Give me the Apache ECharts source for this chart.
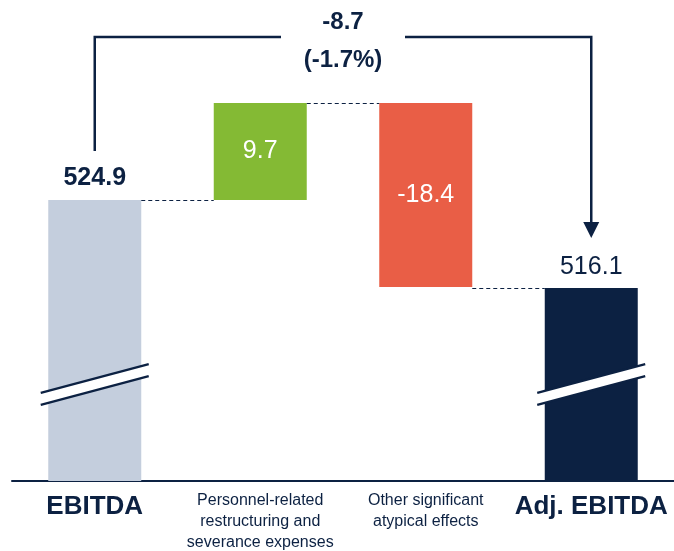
<!DOCTYPE html>
<html>
<head>
<meta charset="utf-8">
<script src="https://cdn.jsdelivr.net/npm/echarts@6/dist/echarts.min.js"></script>
<style>
html,body{margin:0;padding:0;background:#fff;}
#c{width:674px;height:551px;}
</style>
</head>
<body>
<div id="c"></div>
<script>
// ---- data ----
const categories = ['EBITDA', 'Personnel-related\nrestructuring and\nseverance expenses', 'Other significant\natypical effects', 'Adj. EBITDA'];
const startValue = 524.9;
const deltas = [9.7, -18.4];
const endValue = 516.1;
const changeText = '-8.7';
const changePctText = '(-1.7%)';
const startLabel = '524.9';
const deltaLabels = ['9.7', '-18.4'];
const endLabel = '516.1';

// ---- styles ----
const NAVY = '#0C2142';
const GREY = '#C4CEDD';
const GREEN = '#84BA34';
const RED = '#E95E46';
const FONT = '"Liberation Sans", Arial, sans-serif';
const BAR_W = 93;

// waterfall construction
let run = startValue;
const baseData = ['-'];
const visData = [{value: startValue, itemStyle: {color: GREY},
  label: {show: true, position: 'top', distance: 9, formatter: startLabel, color: NAVY, fontWeight: 'bold', fontSize: 25}}];
deltas.forEach((d, i) => {
  const lo = d >= 0 ? run : run + d;
  baseData.push(lo);
  visData.push({value: Math.abs(d), itemStyle: {color: d >= 0 ? GREEN : RED},
    label: {show: true, position: 'inside', formatter: deltaLabels[i], color: '#fff', fontSize: 25}});
  run += d;
});
baseData.push('-');
visData.push({value: endValue, itemStyle: {color: NAVY},
  label: {show: true, position: 'top', distance: 8, formatter: endLabel, color: NAVY, fontSize: 25}});

const chart = echarts.init(document.getElementById('c'), null, {renderer: 'canvas'});
const option = {
  animation: false,
  textStyle: {fontFamily: FONT},
  grid: {left: 12, width: 665, top: 31, bottom: 70},
  xAxis: {
    type: 'category', data: categories,
    axisLine: {show: true, lineStyle: {color: NAVY, width: 2}},
    axisTick: {show: false},
    axisLabel: {
      interval: 0, margin: 9, color: NAVY,
      formatter: (v, i) => (i === 0 || i === categories.length - 1) ? '{big|' + v + '}' : v.split('\n').map(s => '{small|' + s + '}').join('\n'),
      rich: {
        big: {fontSize: 26, fontWeight: 'bold', color: NAVY, lineHeight: 34, fontFamily: FONT},
        small: {fontSize: 16, color: NAVY, lineHeight: 21, fontFamily: FONT}
      }
    }
  },
  yAxis: {type: 'value', min: 496.8, max: 541.8, show: false, splitLine: {show: false}},
  series: [
    {type: 'bar', stack: 'w', data: baseData, barWidth: BAR_W, itemStyle: {color: 'transparent'}, silent: true},
    {type: 'bar', stack: 'w', data: visData, barWidth: BAR_W, label: {fontFamily: FONT}}
  ]
};
chart.setOption(option);

// ---- overlay graphics derived from scales ----
const px = (i, v) => chart.convertToPixel({gridIndex: 0}, [i, v]);
const g = [];
// dashed connectors: from right edge of bar i to left edge of bar i+1
const connLevels = [startValue, startValue + deltas[0], endValue];
for (let i = 0; i < 3; i++) {
  const a = px(i, connLevels[i]);
  const b = px(i + 1, connLevels[i]);
  const y = Math.round(a[1]) + 0.5;
  g.push({type: 'line', z: 10, shape: {x1: a[0] + BAR_W / 2, y1: y, x2: b[0] - BAR_W / 2, y2: y},
    style: {stroke: NAVY, lineWidth: 1, lineDash: [4, 3]}});
}
// break marks
[0, categories.length - 1].forEach(i => {
  const c = px(i, 506.45);
  const hw = 54, slope = -0.266, gap = 12;
  const x1 = c[0] - hw, x2 = c[0] + hw;
  const yU1 = c[1] - hw * slope - gap / 2, yU2 = c[1] + hw * slope - gap / 2;
  const yL1 = yU1 + gap, yL2 = yU2 + gap;
  g.push({type: 'polygon', z: 20, shape: {points: [[x1, yU1], [x2, yU2], [x2, yL2], [x1, yL1]]}, style: {fill: '#fff'}});
  g.push({type: 'line', z: 21, shape: {x1: x1, y1: yU1, x2: x2, y2: yU2}, style: {stroke: NAVY, lineWidth: 2.2}});
  g.push({type: 'line', z: 21, shape: {x1: x1, y1: yL1, x2: x2, y2: yL2}, style: {stroke: NAVY, lineWidth: 2.2}});
});
// bracket
const pL = px(0, startValue);
const pR = px(categories.length - 1, endValue);
const topY = px(0, 541.2)[1];
const midX = (pL[0] + pR[0]) / 2;
const gapHalf = 62;
const leftBottom = pL[1] - 49;
const arrowTip = pR[1] - 50;
g.push({type: 'polyline', z: 10, shape: {points: [[pL[0], leftBottom], [pL[0], topY], [midX - gapHalf, topY]]},
  style: {stroke: NAVY, lineWidth: 2.5, fill: null}});
g.push({type: 'polyline', z: 10, shape: {points: [[midX + gapHalf, topY], [pR[0], topY], [pR[0], arrowTip - 14]]},
  style: {stroke: NAVY, lineWidth: 2.5, fill: null}});
g.push({type: 'polygon', z: 10, shape: {points: [[pR[0] - 8, arrowTip - 16], [pR[0] + 8, arrowTip - 16], [pR[0], arrowTip]]},
  style: {fill: NAVY}});
g.push({type: 'text', z: 10, x: midX, y: topY - 15, style: {text: changeText, fill: NAVY, font: 'bold 24px ' + FONT, textAlign: 'center', textVerticalAlign: 'middle'}});
g.push({type: 'text', z: 10, x: midX, y: topY + 23, style: {text: changePctText, fill: NAVY, font: 'bold 24px ' + FONT, textAlign: 'center', textVerticalAlign: 'middle'}});
chart.setOption({graphic: g});
</script>
</body>
</html>
